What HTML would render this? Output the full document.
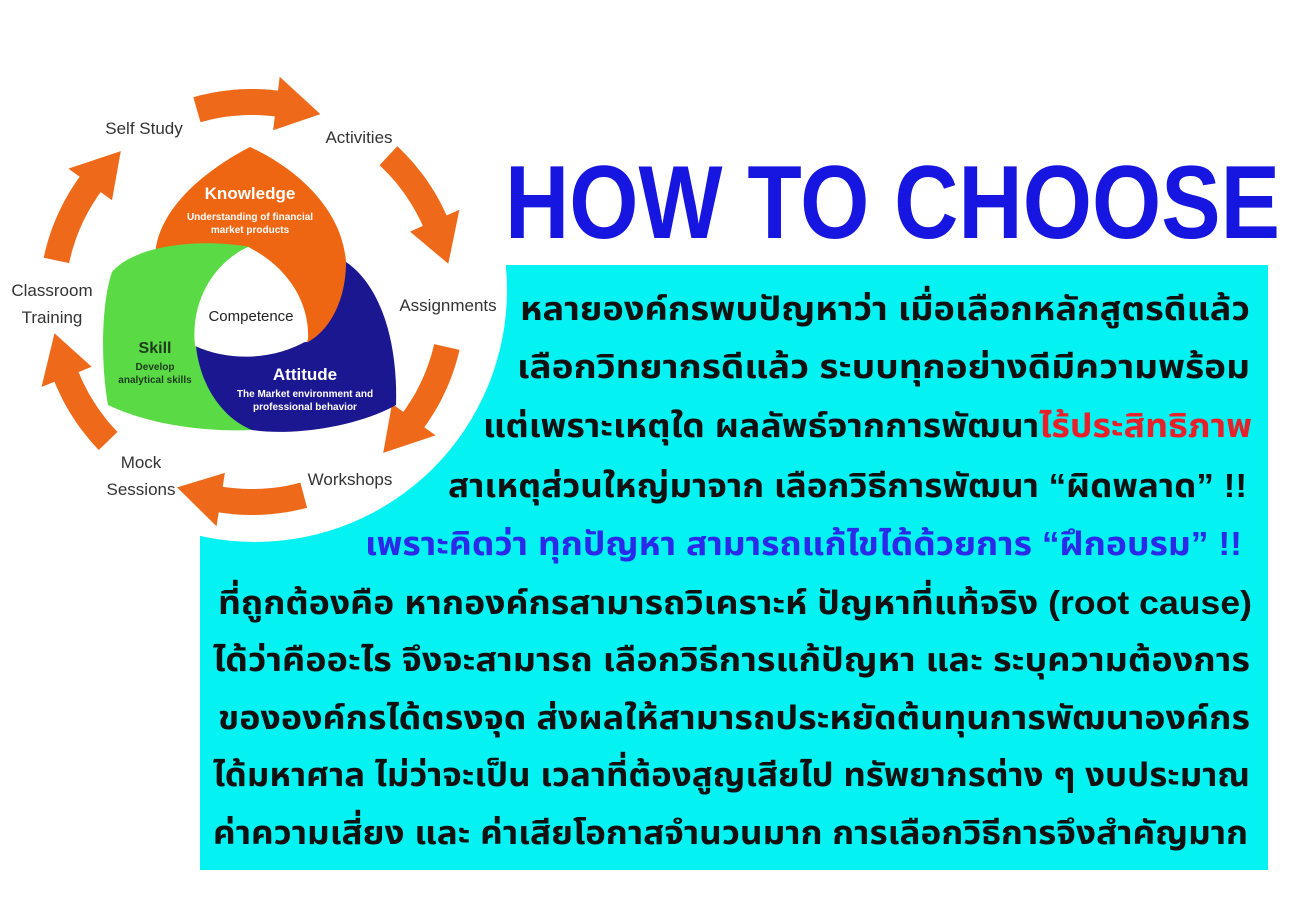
<!DOCTYPE html>
<html><head><meta charset="utf-8"><style>
html,body{margin:0;padding:0;background:#fff;width:1290px;height:900px;overflow:hidden}
svg{display:block}
</style></head><body>
<svg id="s" width="1290" height="900" viewBox="0 0 1290 900" xmlns="http://www.w3.org/2000/svg">
<rect x="0" y="0" width="1290" height="900" fill="#fff"/>
<rect x="200" y="265" width="1068" height="605" fill="#05F2F2"/>
<circle cx="255" cy="290" r="252" fill="#fff"/>
<text x="505" y="238" font-family="'Comic Sans MS','Liberation Sans',sans-serif" font-weight="bold" font-size="104" fill="#1616E0" textLength="775" lengthAdjust="spacingAndGlyphs">HOW TO CHOOSE</text>
<g id="arrows" fill="#EE6A1A"></g>
<path d="M155,258 C156,205 215,165 250,147 C290,165 342,205 346,262 C350,305 335,335 308,342 L250,300 Z" fill="#EE6611"/>
<path d="M112,272 C135,245 200,238 250,247 L250,300 C250,360 245,400 252,430 C205,432 150,425 108,405 C100,360 102,300 112,272 Z" fill="#5ADB45"/>
<path d="M346,262 C380,285 398,340 396,405 C355,428 290,436 252,430 C222,418 200,385 196,346 L308,342 C330,330 346,300 346,262 Z" fill="#1B1790"/>
<path d="M248,247 C285,265 310,300 308,340 C275,360 230,362 195,346 C190,300 215,262 248,247 Z" fill="#fff"/>
<g font-family="'Liberation Sans',sans-serif" text-anchor="middle">
<text x="250" y="199" font-size="17" font-weight="bold" fill="#fff">Knowledge</text>
<text x="250" y="220" font-size="10" font-weight="bold" fill="#fff">Understanding of financial</text>
<text x="250" y="233" font-size="10" font-weight="bold" fill="#fff">market products</text>
<text x="251" y="321" font-size="15" fill="#222">Competence</text>
<text x="155" y="353" font-size="16" font-weight="bold" fill="#1d3a1d">Skill</text>
<text x="155" y="370" font-size="10" font-weight="bold" fill="#1d3a1d">Develop</text>
<text x="155" y="383" font-size="10" font-weight="bold" fill="#1d3a1d">analytical skills</text>
<text x="305" y="380" font-size="17" font-weight="bold" fill="#fff">Attitude</text>
<text x="305" y="397" font-size="10" font-weight="bold" fill="#fff">The Market environment and</text>
<text x="305" y="410" font-size="10" font-weight="bold" fill="#fff">professional behavior</text>
<g font-size="17" fill="#333">
<text x="144" y="134">Self Study</text>
<text x="359" y="143">Activities</text>
<text x="448" y="311">Assignments</text>
<text x="52" y="296">Classroom</text>
<text x="52" y="323">Training</text>
<text x="141" y="468">Mock</text>
<text x="141" y="495">Sessions</text>
<text x="350" y="485">Workshops</text>
</g>
</g>
<g font-family="'Liberation Sans','Noto Sans Thai','DejaVu Sans',sans-serif" font-weight="bold" font-size="33" fill="#111">
<text x="520" y="320" textLength="730" lengthAdjust="spacingAndGlyphs">หลายองค์กรพบปัญหาว่า เมื่อเลือกหลักสูตรดีแล้ว</text>
<text x="517" y="378" textLength="733" lengthAdjust="spacingAndGlyphs">เลือกวิทยากรดีแล้ว ระบบทุกอย่างดีมีความพร้อม</text>
<text x="483" y="437" textLength="769" lengthAdjust="spacingAndGlyphs">แต่เพราะเหตุใด ผลลัพธ์จากการพัฒนา<tspan fill="#E8202A">ไร้ประสิทธิภาพ</tspan></text>
<text x="448" y="497" textLength="799" lengthAdjust="spacingAndGlyphs">สาเหตุส่วนใหญ่มาจาก เลือกวิธีการพัฒนา “ผิดพลาด” !!</text>
<text x="365" y="555" textLength="877" lengthAdjust="spacingAndGlyphs" fill="#2A2AE8">เพราะคิดว่า ทุกปัญหา สามารถแก้ไขได้ด้วยการ “ฝึกอบรม” !!</text>
<text x="218" y="614" textLength="1034" lengthAdjust="spacingAndGlyphs">ที่ถูกต้องคือ หากองค์กรสามารถวิเคราะห์ ปัญหาที่แท้จริง (root cause)</text>
<text x="213" y="671" textLength="1037" lengthAdjust="spacingAndGlyphs">ได้ว่าคืออะไร จึงจะสามารถ เลือกวิธีการแก้ปัญหา และ ระบุความต้องการ</text>
<text x="218" y="729" textLength="1032" lengthAdjust="spacingAndGlyphs">ขององค์กรได้ตรงจุด ส่งผลให้สามารถประหยัดต้นทุนการพัฒนาองค์กร</text>
<text x="213" y="786" textLength="1037" lengthAdjust="spacingAndGlyphs">ได้มหาศาล ไม่ว่าจะเป็น เวลาที่ต้องสูญเสียไป ทรัพยากรต่าง ๆ งบประมาณ</text>
<text x="213" y="844" textLength="1035" lengthAdjust="spacingAndGlyphs">ค่าความเสี่ยง และ ค่าเสียโอกาสจำนวนมาก การเลือกวิธีการจึงสำคัญมาก</text>
</g>
</svg>
<script>
(function(){
var cx=252,cy=302,r=200,g=document.getElementById('arrows');
var A=[[254,290],[313,349],[13,49],[75,112],[136,171],[192,229]];
function p(a,rr){var t=a*Math.PI/180;return [cx+rr*Math.cos(t),cy+rr*Math.sin(t)];}
var ns='http://www.w3.org/2000/svg';
A.forEach(function(ab){
 var a=ab[0],b=ab[1],m=b-13,w=13,h=27;
 var pts=[];
 for(var t=a;t<=m;t+=1)pts.push(p(t,r+w));
 pts.push(p(m,r+w));pts.push(p(m,r+h));pts.push(p(b,r));pts.push(p(m,r-h));pts.push(p(m,r-w));
 for(var t=m;t>=a;t-=1)pts.push(p(t,r-w));
 var e=document.createElementNS(ns,'polygon');
 e.setAttribute('points',pts.map(function(q){return q[0].toFixed(1)+','+q[1].toFixed(1)}).join(' '));
 g.appendChild(e);
});
})();
</script>
</body></html>
